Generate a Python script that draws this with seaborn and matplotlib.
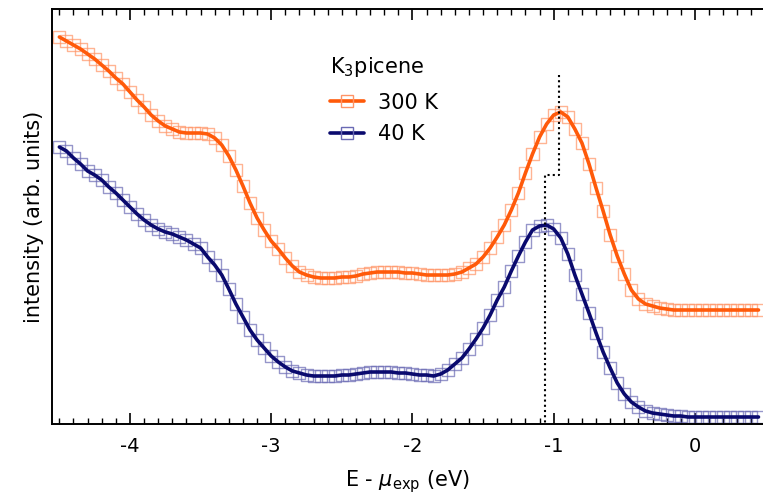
import numpy as np
import pandas as pd
import seaborn as sns
import matplotlib.pyplot as plt
from matplotlib.lines import Line2D
from matplotlib.ticker import MultipleLocator

# energy grid (eV), 0.05 eV steps
energy = [-4.50, -4.45, -4.40, -4.35, -4.30, -4.25, -4.20, -4.15, -4.10, -4.05,
          -4.00, -3.95, -3.90, -3.85, -3.80, -3.75, -3.70, -3.65, -3.60, -3.55,
          -3.50, -3.45, -3.40, -3.35, -3.30, -3.25, -3.20, -3.15, -3.10, -3.05,
          -3.00, -2.95, -2.90, -2.85, -2.80, -2.75, -2.70, -2.65, -2.60, -2.55,
          -2.50, -2.45, -2.40, -2.35, -2.30, -2.25, -2.20, -2.15, -2.10, -2.05,
          -2.00, -1.95, -1.90, -1.85, -1.80, -1.75, -1.70, -1.65, -1.60, -1.55,
          -1.50, -1.45, -1.40, -1.35, -1.30, -1.25, -1.20, -1.15, -1.10, -1.05,
          -1.00, -0.95, -0.90, -0.85, -0.80, -0.75, -0.70, -0.65, -0.60, -0.55,
          -0.50, -0.45, -0.40, -0.35, -0.30, -0.25, -0.20, -0.15, -0.10, -0.05,
          0.00, 0.05, 0.10, 0.15, 0.20, 0.25, 0.30, 0.35, 0.40, 0.45]

int_300K = [3.87, 3.83, 3.79, 3.75, 3.70, 3.65, 3.59, 3.53, 3.46, 3.40,
            3.32, 3.24, 3.17, 3.09, 3.03, 2.98, 2.95, 2.92, 2.91, 2.91,
            2.91, 2.90, 2.86, 2.79, 2.68, 2.54, 2.38, 2.21, 2.06, 1.94,
            1.83, 1.75, 1.66, 1.58, 1.52, 1.49, 1.47, 1.46, 1.46, 1.46,
            1.47, 1.47, 1.48, 1.50, 1.51, 1.52, 1.52, 1.52, 1.52, 1.51,
            1.51, 1.50, 1.49, 1.49, 1.49, 1.49, 1.50, 1.52, 1.56, 1.60,
            1.67, 1.76, 1.87, 1.99, 2.14, 2.31, 2.51, 2.70, 2.87, 3.00,
            3.09, 3.12, 3.07, 2.95, 2.81, 2.60, 2.36, 2.13, 1.89, 1.68,
            1.50, 1.34, 1.25, 1.20, 1.18, 1.16, 1.15, 1.14, 1.14, 1.14,
            1.14, 1.14, 1.14, 1.14, 1.14, 1.14, 1.14, 1.14, 1.14, 1.14]

int_40K = [2.77, 2.73, 2.66, 2.60, 2.53, 2.49, 2.44, 2.37, 2.31, 2.24,
           2.17, 2.10, 2.04, 1.99, 1.95, 1.92, 1.90, 1.87, 1.84, 1.80,
           1.76, 1.67, 1.59, 1.49, 1.35, 1.20, 1.07, 0.94, 0.84, 0.76,
           0.68, 0.62, 0.57, 0.53, 0.51, 0.49, 0.48, 0.48, 0.48, 0.48,
           0.49, 0.49, 0.50, 0.51, 0.52, 0.52, 0.52, 0.52, 0.51, 0.51,
           0.50, 0.49, 0.49, 0.48, 0.50, 0.54, 0.60, 0.66, 0.75, 0.85,
           0.96, 1.09, 1.24, 1.37, 1.53, 1.68, 1.82, 1.94, 1.98, 1.99,
           1.95, 1.86, 1.70, 1.49, 1.30, 1.11, 0.91, 0.72, 0.56, 0.41,
           0.30, 0.22, 0.17, 0.13, 0.11, 0.10, 0.09, 0.08, 0.08, 0.07,
           0.07, 0.07, 0.07, 0.07, 0.07, 0.07, 0.07, 0.07, 0.07, 0.07]

# dotted guide between the two peak positions
peak_e = [-0.965, -0.965, -1.064, -1.064]
peak_i = [3.49, 2.49, 2.49, 0.0]

labels = ["300 K", "40 K"]
line_colors = ["#ff5a0a", "#0a0a6e"]
marker_colors = ["#ff9466", "#6a6ab4"]

df = pd.DataFrame({"E": energy, "300 K": int_300K, "40 K": int_40K})

sns.set_style("white")
plt.rcParams['font.family'] = ['DejaVu Sans']
plt.rcParams['text.color'] = 'black'
plt.rcParams['axes.labelcolor'] = 'black'
plt.rcParams['xtick.color'] = 'black'

fig = plt.figure(figsize=(7.63, 5.0), dpi=100)
ax = fig.add_axes([0.068, 0.152, 0.932, 0.830])

for lab, lc, mc in zip(labels, line_colors, marker_colors):
    sns.scatterplot(data=df, x="E", y=lab, ax=ax, marker="s", s=75,
                    facecolors="none", edgecolor=mc, linewidth=1.0, alpha=0.7,
                    zorder=2)
    sns.lineplot(data=df, x="E", y=lab, ax=ax, color=lc, linewidth=2.6,
                 zorder=3)

ax.plot(peak_e, peak_i, color="black", linestyle=(0, (1, 1.5)), linewidth=1.5,
        zorder=4)

ax.set_xlim(-4.553, 0.482)
ax.set_ylim(0, 4.15)
ax.set_xticks([-4, -3, -2, -1, 0])
ax.set_xticklabels(["-4", "-3", "-2", "-1", "0"])
ax.xaxis.set_minor_locator(MultipleLocator(0.1))
ax.set_yticks([])
ax.tick_params(axis="x", which="major", direction="in", length=8, width=1.2,
               top=True, bottom=True, labelsize=14, pad=9, color="black")
ax.tick_params(axis="x", which="minor", direction="in", length=4.5, width=1.0,
               top=True, bottom=True, color="black")

for side in ["left", "bottom", "top"]:
    ax.spines[side].set_visible(True)
    ax.spines[side].set_color("black")
    ax.spines[side].set_linewidth(1.4)
ax.spines["right"].set_visible(False)

ax.set_xlabel(r"E - $\mu_{\mathrm{exp}}$ (eV)", fontsize=15, labelpad=9)
ax.set_ylabel("intensity (arb. units)", fontsize=15, labelpad=6)

handles = [Line2D([0], [0], color=lc, linewidth=2.6, marker="s", markersize=9,
                  markerfacecolor="none", markeredgecolor=mc, markeredgewidth=1.0)
           for lc, mc in zip(line_colors, marker_colors)]
leg = ax.legend(handles, labels, title=r"K$_3$picene", frameon=False,
                fontsize=15, title_fontsize=15, loc="upper left",
                bbox_to_anchor=(0.38, 0.91), handlelength=1.6,
                handletextpad=0.7, labelspacing=0.55, borderaxespad=0)
leg._legend_box.align = "left"
leg._legend_box.sep = 10

fig.savefig("out.png", dpi=100)
